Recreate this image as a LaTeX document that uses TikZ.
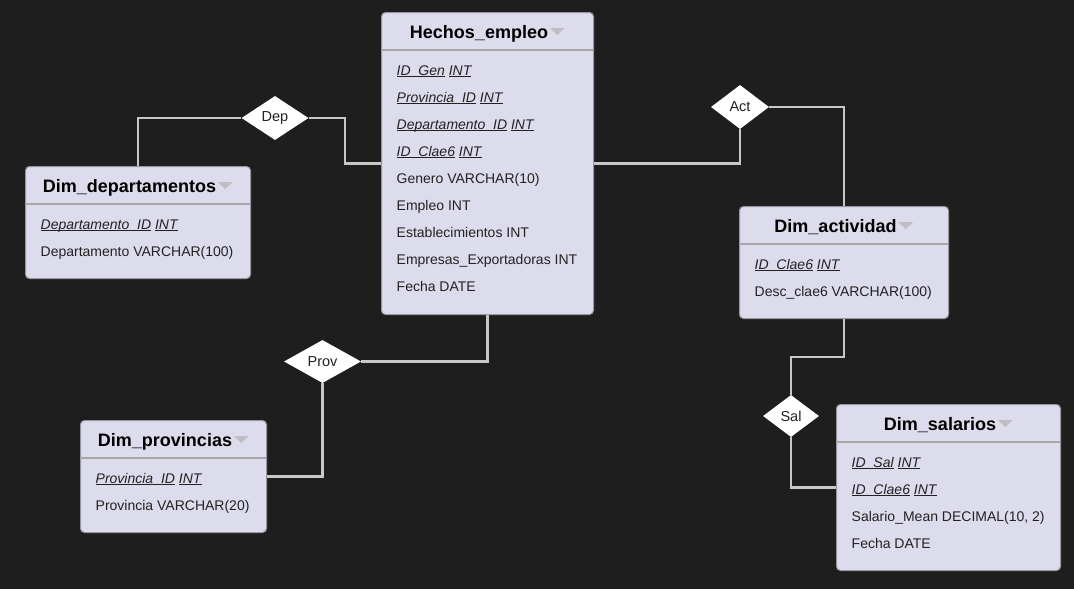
\documentclass[tikz,border=0pt]{standalone}
\usepackage{fontspec}
\setmainfont{Liberation Sans}
\usetikzlibrary{shapes.geometric,calc}
\definecolor{bg}{RGB}{30,30,30}
\definecolor{boxfill}{RGB}{220,220,236}
\definecolor{boxborder}{RGB}{150,150,160}
\definecolor{sepc}{RGB}{165,165,170}
\definecolor{txt}{RGB}{34,34,34}
\definecolor{conn}{RGB}{200,200,200}
\definecolor{tric}{RGB}{190,190,195}
\newcommand\keyf[2]{\textit{\underline{\smash{#1}}}\ \textit{\underline{\smash{#2}}}}
\tikzset{
  ebox/.style={anchor=north west, draw=boxborder, fill=boxfill, rounded corners=4pt, inner sep=0pt, line width=1pt},
  sepline/.style={draw=sepc, line width=1.2pt},
  etitle/.style={anchor=base, inner sep=0pt, text=black, font=\fontsize{18}{20}\selectfont\bfseries},
  erow/.style={anchor=base west, inner sep=0pt, text=txt, font=\fontsize{14}{16}\selectfont},
  rel/.style={shape=diamond, fill=white, draw=none, inner sep=0pt, aspect=1.5, text=txt, font=\fontsize{14.5}{16}\selectfont},
  connline/.style={draw=conn, line width=2.6pt},
}
\newcommand\entity[7]{%
  \node[ebox, minimum width=#4, minimum height=#5] (#1) at (#2,#3) {};
  \draw[sepline] (#2,#3+38) -- (#2+#4,#3+38);
  \node[etitle] (#1t) at (#2+#4/2-8,#3+26.5) {#6};
  \fill[tric] ($(#1t.base east)+(1.5,-10.5)$) -- ++(15,0) -- ++(-7.5,7) -- cycle;
  \foreach \r [count=\i] in {#7} \node[erow] at (#2+15.5,#3+36+27*\i) {\r};
}
\begin{document}
\begin{tikzpicture}[x=1pt,y=-1pt]
\fill[bg] (0,0) rectangle (1074,589);
\useasboundingbox (0,0) rectangle (1074,589);

% diamonds
\node[rel, minimum width=67pt, minimum height=44pt] (dep) at (275,118) {Dep};
\node[rel, minimum width=58pt, minimum height=44pt] (act) at (740,107) {Act};
\node[rel, minimum width=77pt, minimum height=43pt] (prov) at (322.5,361.5) {Prov};
\node[rel, minimum width=56pt, minimum height=42pt] (sal) at (791,416) {Sal};

% entities
\entity{he}{381}{12}{212}{302}{Hechos\_empleo}{%
  {\keyf{ID\_Gen}{INT}},
  {\keyf{Provincia\_ID}{INT}},
  {\keyf{Departamento\_ID}{INT}},
  {\keyf{ID\_Clae6}{INT}},
  {Genero VARCHAR(10)},
  {Empleo INT},
  {Establecimientos INT},
  {Empresas\_Exportadoras INT},
  {Fecha DATE}}
\entity{dd}{25}{166}{225}{112}{Dim\_departamentos}{%
  {\keyf{Departamento\_ID}{INT}},
  {Departamento VARCHAR(100)}}
\entity{da}{739}{206}{209}{112}{Dim\_actividad}{%
  {\keyf{ID\_Clae6}{INT}},
  {Desc\_clae6 VARCHAR(100)}}
\entity{dp}{80}{420}{186}{112}{Dim\_provincias}{%
  {\keyf{Provincia\_ID}{INT}},
  {Provincia VARCHAR(20)}}
\entity{ds}{836}{404}{224}{166}{Dim\_salarios}{%
  {\keyf{ID\_Sal}{INT}},
  {\keyf{ID\_Clae6}{INT}},
  {Salario\_Mean DECIMAL(10, 2)},
  {Fecha DATE}}

% connectors
\coordinate (m1) at ($(dep.east)!0.5!(he.west)$);
\coordinate (m2) at ($(da.south)!0.5!(sal.north)$);
\draw[connline] (dd.north) |- (dep.west);
\draw[connline] (dep.east) -| (m1) |- (he.west);
\draw[connline] (he.east) -| (act.south);
\draw[connline] (act.east) -| (da.north);
\draw[connline] (he.south) |- (prov.east);
\draw[connline] (prov.south) |- (dp.east);
\draw[connline] (da.south) |- (m2) -| (sal.north);
\draw[connline] (sal.south) |- (ds.west);
\end{tikzpicture}
\end{document}
